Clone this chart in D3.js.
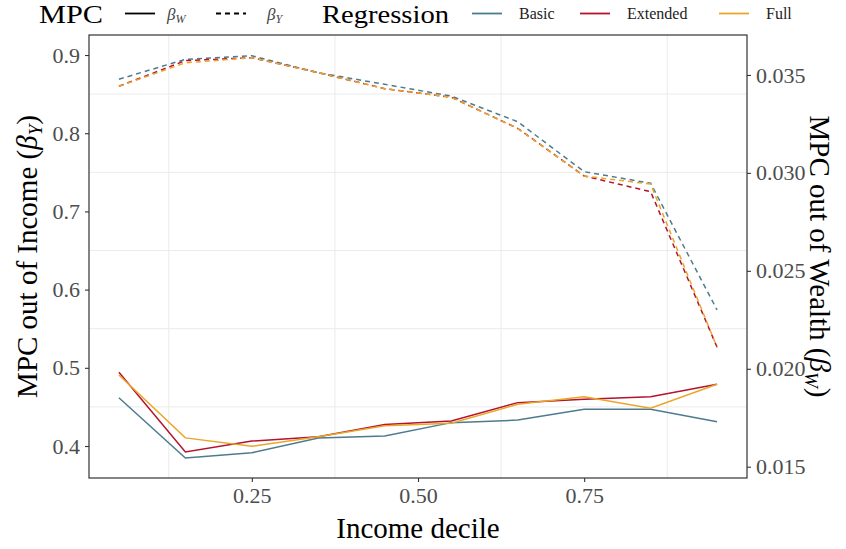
<!DOCTYPE html>
<html>
<head>
<meta charset="utf-8">
<script src="https://cdn.jsdelivr.net/npm/d3@7"></script>
<style>
  body { margin: 0; background: #fff; }
  svg { display: block; font-family: "Liberation Serif", "DejaVu Serif", serif; }
</style>
</head>
<body>
<svg id="chart" width="846" height="549"></svg>
<script>
const DECILES = [0.05, 0.15, 0.25, 0.35, 0.45, 0.55, 0.65, 0.75, 0.85, 0.95];
const REGRESSIONS = ["Basic", "Extended", "Full"];
const REGRESSION_COLORS = ["#4d7b8e", "#b5122c", "#eaa628"];

// MPC out of income (left axis, dashed)
const BETA_Y_BASIC = [0.869, 0.8945, 0.899, 0.8774, 0.8625, 0.8475, 0.8147, 0.7508, 0.736, 0.574];
const BETA_Y_EXTENDED = [0.860, 0.8928, 0.8966, 0.8774, 0.857, 0.846, 0.8062, 0.7453, 0.7252, 0.5262];
const BETA_Y_FULL = [0.860, 0.890, 0.8966, 0.8774, 0.857, 0.846, 0.8062, 0.7453, 0.735, 0.5262];

// MPC out of wealth (right axis, solid)
const BETA_W_BASIC = [0.01852, 0.01544, 0.01571, 0.01647, 0.01657, 0.01725, 0.01738, 0.01793, 0.01793, 0.0173];
const BETA_W_EXTENDED = [0.01982, 0.01575, 0.01631, 0.01653, 0.01716, 0.01733, 0.01827, 0.01844, 0.01857, 0.01921];
const BETA_W_FULL = [0.01968, 0.01647, 0.01604, 0.01653, 0.01709, 0.01722, 0.01819, 0.01857, 0.01798, 0.01921];

const X_TICKS = [0.25, 0.5, 0.75];
const X_MINOR = [0.125, 0.375, 0.625, 0.875];
const Y_TICKS = [0.4, 0.5, 0.6, 0.7, 0.8, 0.9];
const Y_MINOR = [0.45, 0.55, 0.65, 0.75, 0.85];
const Y2_TICKS = [0.015, 0.020, 0.025, 0.030, 0.035];

const width = 846;
const height = 549;
const margin = { top: 35, right: 99, bottom: 71, left: 89 };
const inkColor = "#333333";
const tickTextColor = "#4d4d4d";

const svg = d3.select("#chart");

const x = d3.scaleLinear().domain([0.005, 0.995]).range([margin.left, width - margin.right]);
const yLeft = d3.scaleLinear().domain([0.3591, 0.9256]).range([height - margin.bottom, margin.top]);
const yRight = d3.scaleLinear().domain([0.014423, 0.03704]).range([height - margin.bottom, margin.top]);

// grid
const grid = svg.append("g").attr("stroke", "#ebebeb").attr("stroke-width", 1);
grid.selectAll("line.gx")
  .data(X_MINOR)
  .join("line")
  .attr("x1", (d) => x(d)).attr("x2", (d) => x(d))
  .attr("y1", margin.top).attr("y2", height - margin.bottom);
grid.selectAll("line.gy")
  .data(Y_MINOR)
  .join("line")
  .attr("y1", (d) => yLeft(d)).attr("y2", (d) => yLeft(d))
  .attr("x1", margin.left).attr("x2", width - margin.right);

// series
const dashedSeries = [BETA_Y_BASIC, BETA_Y_EXTENDED, BETA_Y_FULL];
const solidSeries = [BETA_W_BASIC, BETA_W_EXTENDED, BETA_W_FULL];

const lineLeft = d3.line().x((d, i) => x(DECILES[i])).y((d) => yLeft(d));
const lineRight = d3.line().x((d, i) => x(DECILES[i])).y((d) => yRight(d));

const lines = svg.append("g").attr("fill", "none").attr("stroke-width", 1.5);
solidSeries.forEach((values, index) => {
  lines.append("path")
    .attr("d", lineRight(values))
    .attr("stroke", REGRESSION_COLORS[index]);
});
dashedSeries.forEach((values, index) => {
  lines.append("path")
    .attr("d", lineLeft(values))
    .attr("stroke", REGRESSION_COLORS[index])
    .attr("stroke-dasharray", "5,4");
});

// panel border
svg.append("rect")
  .attr("x", margin.left)
  .attr("y", margin.top)
  .attr("width", width - margin.left - margin.right)
  .attr("height", height - margin.top - margin.bottom)
  .attr("fill", "none")
  .attr("stroke", inkColor)
  .attr("stroke-width", 1.2);

function styleAxis(axisGroup) {
  axisGroup.select(".domain").remove();
  axisGroup.selectAll(".tick line").attr("stroke", inkColor).attr("stroke-width", 1.1);
  axisGroup.selectAll(".tick text")
    .attr("fill", tickTextColor)
    .attr("font-size", 22)
    .attr("font-family", "Liberation Serif, serif");
}

svg.append("g")
  .attr("transform", `translate(0,${height - margin.bottom})`)
  .call(d3.axisBottom(x).tickValues(X_TICKS).tickSize(4).tickPadding(5).tickFormat(d3.format(".2f")))
  .call(styleAxis);

svg.append("g")
  .attr("transform", `translate(${margin.left},0)`)
  .call(d3.axisLeft(yLeft).tickValues(Y_TICKS).tickSize(4).tickPadding(5).tickFormat(d3.format(".1f")))
  .call(styleAxis);

svg.append("g")
  .attr("transform", `translate(${width - margin.right},0)`)
  .call(d3.axisRight(yRight).tickValues(Y2_TICKS).tickSize(4).tickPadding(5).tickFormat(d3.format(".3f")))
  .call(styleAxis);

// axis titles
const plotMidY = (margin.top + height - margin.bottom) / 2;

svg.append("text")
  .attr("x", (margin.left + width - margin.right) / 2)
  .attr("y", 538)
  .attr("text-anchor", "middle")
  .attr("font-size", 29)
  .attr("fill", "#000")
  .text("Income decile");

function betaTitle(selection, prefix, sub) {
  selection.append("tspan").text(prefix + " (");
  selection.append("tspan").attr("font-style", "italic").text("β");
  selection.append("tspan").attr("font-style", "italic").attr("font-size", 19).attr("dy", 5).text(sub);
  selection.append("tspan").attr("dy", -5).text(")");
}

svg.append("text")
  .attr("transform", `translate(37,${plotMidY}) rotate(-90)`)
  .attr("text-anchor", "middle")
  .attr("font-size", 29)
  .attr("fill", "#000")
  .call(betaTitle, "MPC out of Income", "Y");

svg.append("text")
  .attr("transform", `translate(810,${plotMidY}) rotate(90)`)
  .attr("text-anchor", "middle")
  .attr("font-size", 29)
  .attr("fill", "#000")
  .call(betaTitle, "MPC out of Wealth", "W");

// legend
const legend = svg.append("g");
const legendLineY = 13.5;

legend.append("text")
  .attr("x", 39).attr("y", 23)
  .attr("font-size", 25)
  .attr("textLength", 64).attr("lengthAdjust", "spacingAndGlyphs")
  .text("MPC");

const mpcKeys = [
  { sub: "W", dash: null, x0: 125, tx: 167 },
  { sub: "Y", dash: "5,4", x0: 216, tx: 267 }
];
mpcKeys.forEach((key) => {
  legend.append("line")
    .attr("x1", key.x0).attr("x2", key.x0 + 30)
    .attr("y1", legendLineY).attr("y2", legendLineY)
    .attr("stroke", "#000").attr("stroke-width", 1.8)
    .attr("stroke-dasharray", key.dash);
  const label = legend.append("text").attr("x", key.tx).attr("y", 20).attr("font-size", 17).attr("fill", "#444");
  label.append("tspan").attr("font-style", "italic").text("β");
  label.append("tspan").attr("font-style", "italic").attr("font-size", 12).attr("dy", 3).text(key.sub);
});

legend.append("text")
  .attr("x", 322).attr("y", 23)
  .attr("font-size", 25)
  .attr("textLength", 127).attr("lengthAdjust", "spacingAndGlyphs")
  .text("Regression");

const regressionKeyX = [472, 580, 719];
REGRESSIONS.forEach((name, index) => {
  const x0 = regressionKeyX[index];
  legend.append("line")
    .attr("x1", x0).attr("x2", x0 + 30)
    .attr("y1", legendLineY).attr("y2", legendLineY)
    .attr("stroke", REGRESSION_COLORS[index]).attr("stroke-width", 1.8);
  legend.append("text")
    .attr("x", x0 + 47)
    .attr("y", 19)
    .attr("font-size", 16)
    .attr("fill", "#222")
    .text(name);
});
</script>
</body>
</html>
